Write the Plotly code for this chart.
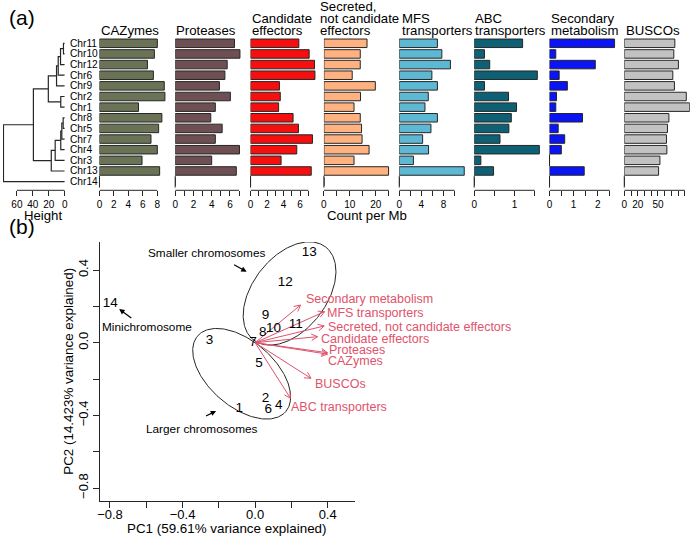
import numpy as np
import plotly.graph_objects as go

W, H = 693, 537
def fx(p):
    return p / W
def fy(p):
    return 1 - p / H

FONT = "Liberation Sans, Arial, Helvetica, sans-serif"
INK = "#262626"
PINK = "#DF536B"

# ---------------- data: panel (a) ----------------
chromosomes = ["Chr11", "Chr10", "Chr12", "Chr6", "Chr9", "Chr2", "Chr1",
               "Chr8", "Chr5", "Chr7", "Chr4", "Chr3", "Chr13", "Chr14"]
cazymes   = [8.02, 7.61, 6.65, 7.47, 8.98, 9.07, 5.41, 8.65, 8.20, 7.14, 8.02, 5.90, 8.34, 0]
proteases = [6.50, 7.10, 5.70, 5.45, 4.85, 6.05, 4.40, 3.90, 5.15, 4.40, 7.05, 4.00, 6.70, 0]
candidate = [5.85, 7.10, 7.75, 7.80, 3.50, 3.60, 3.40, 5.15, 5.80, 7.50, 5.60, 3.70, 7.35, 0]
secreted  = [16.6, 14.0, 14.0, 10.9, 19.8, 14.1, 11.6, 14.0, 14.5, 14.7, 17.4, 11.6, 24.9, 0]
mfs       = [6.90, 7.70, 9.25, 5.90, 6.90, 5.25, 4.65, 6.90, 5.73, 4.23, 5.30, 2.56, 11.75, 0]
abc       = [1.20, 0.255, 0.385, 1.565, 0.255, 0.85, 1.05, 0.92, 0.86, 0.64, 1.615, 0.165, 0.48, 0]
secondary = [2.70, 0.26, 1.90, 0.40, 0.74, 0.29, 0.26, 1.37, 0.36, 0.63, 0.49, 0, 1.44, 0]
buscos    = [75.0, 73.5, 80.3, 72.0, 74.4, 92.0, 97.0, 66.2, 64.1, 62.6, 63.2, 52.9, 50.9, 0]

panel_titles = [["CAZymes"], ["Proteases"], ["Candidate", "effectors"],
                ["Secreted,", "not candidate", "effectors"], ["MFS", "transporters"],
                ["ABC", "transporters"], ["Secondary", "metabolism"], ["BUSCOs"]]
panel_values = [cazymes, proteases, candidate, secreted, mfs, abc, secondary, buscos]
panel_colors = ["#6B7356", "#6E4F53", "#F50F0F", "#FFB280", "#5CB8D3", "#0E6174", "#0A14F5", "#C2C2C2"]
panel_ticks = [[0, 2, 4, 6, 8], [0, 1, 2, 3, 4, 5, 6, 7], [0, 1, 2, 3, 4, 5, 6, 7],
               [0, 5, 10, 15, 20, 25], [0, 2, 4, 6, 8, 10], [0, 0.5, 1, 1.5],
               [0, 0.5, 1, 1.5, 2, 2.5], [0, 10, 20, 30, 40, 50, 60, 70, 80, 90]]
panel_ticklabels = [[0, 2, 4, 6, 8], [0, 2, 4, 6], [0, 2, 4, 6], [0, 10, 20], [0, 4, 8],
                    [0, 1], [0, 1, 2], [0, 20, 50]]

# dendrogram merges: (child a, child b, height); "mK" = K-th merge
dend_merges = [("Chr11", "Chr10", 1.6), ("m1", "Chr12", 5.3), ("m2", "Chr6", 8.2),
               ("m3", "Chr9", 10.3), ("Chr2", "Chr1", 5.0), ("m4", "m5", 20.6),
               ("Chr8", "Chr5", 2.0), ("m7", "Chr7", 3.7), ("m8", "Chr4", 5.0),
               ("m9", "Chr3", 12.0), ("m10", "Chr13", 16.9), ("m6", "m11", 39.3),
               ("m12", "Chr14", 76.8)]
height_ticks = [60, 40, 20, 0]

# ---------------- data: panel (b) ----------------
pca_ids = ["1", "2", "3", "4", "5", "6", "7", "8", "9", "10", "11", "12", "13", "14"]
pc1 = [-0.087, 0.058, -0.251, 0.130, 0.022, 0.073, -0.012, 0.042, 0.057, 0.102, 0.224, 0.166, 0.298, -0.798]
pc2 = [-0.361, -0.308, 0.009, -0.347, -0.115, -0.370, -0.002, 0.056, 0.150, 0.079, 0.101, 0.328, 0.498, 0.215]

load_names = ["Secondary metabolism", "MFS transporters", "Secreted, not candidate effectors",
              "Candidate effectors", "Proteases", "CAZymes", "BUSCOs", "ABC transporters"]
load_x = [0.250, 0.383, 0.381, 0.344, 0.399, 0.399, 0.308, 0.195]
load_y = [0.207, 0.171, 0.092, 0.033, -0.055, -0.063, -0.196, -0.306]
load_lab_x = [0.273, 0.392, 0.396, 0.359, 0.401, 0.399, 0.326, 0.191]
load_lab_y = [0.239, 0.165, 0.088, 0.020, -0.042, -0.101, -0.229, -0.352]

pca_xticks = [-0.8, -0.6, -0.4, -0.2, 0.0, 0.2, 0.4]
pca_yticks = [-0.8, -0.6, -0.4, -0.2, 0.0, 0.2, 0.4]
pca_labeled = [-0.8, -0.4, 0.0, 0.4]

# ellipses: centre x, centre y, semi-major, semi-minor, angle (deg)
ellipses = [(0.190, 0.271, 0.324, 0.203, 52.0), (-0.074, -0.171, 0.320, 0.181, -40.6)]

groups = [  # text, text x, text y, arrow tail x, y, arrow head x, y
    ("Smaller chromosomes", -0.268, 0.495, -0.124, 0.433, -0.047, 0.391),
    ("Minichromosome", -0.596, 0.088, -0.674, 0.130, -0.749, 0.185),
    ("Larger chromosomes", -0.290, -0.477, -0.279, -0.407, -0.215, -0.376),
]

# ---------------- layout geometry (pixels) ----------------
ROW0, ROWSTEP = 43.3, 10.64
A_TOP, A_BOT = 36.0, 190.3
yr_top = (A_TOP - ROW0) / ROWSTEP
yr_bot = (A_BOT - ROW0) / ROWSTEP
panel_x0 = [97.3, 173.7, 249.7, 323.7, 399.7, 475.3, 551.3, 626.7]
panel_scale = [7.28, 9.2, 8.33, 2.62, 5.58, 40.7, 24.3, 0.68]
title_left = [98.3, 174.0, 250.0, 318.5, 401.7, 475.5, 551.7, 627.7]
PANEL_W = 68.0
DEND_RIGHT = 62.3
DEND_SCALE = 0.805

fig = go.Figure()
layout = dict(width=W, height=H, margin=dict(l=0, r=0, t=0, b=0),
              paper_bgcolor="white", plot_bgcolor="white", showlegend=False,
              font=dict(family=FONT, color="black"))
annotations = []
shapes = []

rows = list(range(len(chromosomes)))

# shared y axis for panel (a)
layout["yaxis"] = dict(domain=[fy(A_BOT), fy(A_TOP)], range=[yr_bot, yr_top],
                       visible=False, fixedrange=True)

# ---- dendrogram ----
nodes = {name: (0.0, float(i)) for i, name in enumerate(chromosomes)}
dx, dy = [], []
for k, (a, b, h) in enumerate(dend_merges, start=1):
    ha, ya = nodes[a]
    hb, yb = nodes[b]
    dx += [ha, h, h, hb, None]
    dy += [ya, ya, yb, yb, None]
    nodes["m%d" % k] = (h, (ya + yb) / 2)
fig.add_trace(go.Scatter(x=dx, y=dy, mode="lines", line=dict(color=INK, width=1.2),
                         xaxis="x", yaxis="y", hoverinfo="skip", cliponaxis=False))
hmax = DEND_RIGHT / DEND_SCALE
layout["xaxis"] = dict(domain=[0, fx(DEND_RIGHT)], range=[hmax, 0], anchor="y",
                       tickmode="array", tickvals=height_ticks,
                       ticktext=[str(v) for v in height_ticks],
                       ticks="outside", ticklen=5, tickcolor=INK, tickwidth=1,
                       showline=False, showgrid=False, zeroline=False,
                       tickfont=dict(size=10, family=FONT))
shapes.append(dict(type="line", xref="x", yref="paper", x0=min(height_ticks), x1=max(height_ticks),
                   y0=fy(A_BOT), y1=fy(A_BOT), line=dict(color=INK, width=1)))
for i, name in enumerate(chromosomes):
    annotations.append(dict(x=0, y=i, xref="x", yref="y", text=name, showarrow=False,
                            xanchor="left", yanchor="middle", xshift=3,
                            font=dict(size=10.2, family=FONT)))

# ---- bar panels ----
for k in range(8):
    ax = "x%d" % (k + 2)
    vals = panel_values[k]
    fig.add_trace(go.Bar(x=vals, y=rows, orientation="h", width=0.8,
                         marker=dict(color=panel_colors[k], line=dict(color=INK, width=1)),
                         xaxis=ax, yaxis="y", hoverinfo="skip", cliponaxis=False))
    zr = [i for i, v in enumerate(vals) if v == 0]
    fig.add_trace(go.Scatter(x=[0] * len(zr), y=zr, mode="markers",
                             marker=dict(symbol="line-ns", size=8.5,
                                         line=dict(color=INK, width=1)),
                             xaxis=ax, yaxis="y", hoverinfo="skip", cliponaxis=False))
    x0 = panel_x0[k]
    sc = panel_scale[k]
    pw = min(PANEL_W, W - x0 - 0.2)
    ticks = panel_ticks[k]
    layout["xaxis%d" % (k + 2)] = dict(
        domain=[fx(x0), fx(x0 + pw)], range=[0, pw / sc], anchor="y",
        tickmode="array", tickvals=ticks,
        ticktext=[("%g" % t) if t in panel_ticklabels[k] else "" for t in ticks],
        ticks="outside", ticklen=5, tickcolor=INK, tickwidth=1,
        showline=False, showgrid=False, zeroline=False,
        tickfont=dict(size=10, family=FONT))
    shapes.append(dict(type="line", xref=ax, yref="paper", x0=ticks[0], x1=ticks[-1],
                       y0=fy(A_BOT), y1=fy(A_BOT), line=dict(color=INK, width=1)))
    lines = panel_titles[k]
    n = len(lines)
    for j, ln in enumerate(lines):
        ycen = 30.3 - 11.8 * (n - 1 - j)
        annotations.append(dict(x=fx(title_left[k]), y=fy(ycen), xref="paper", yref="paper",
                                text=ln, showarrow=False, xanchor="left", yanchor="middle",
                                xshift=-1, font=dict(size=13.2, family=FONT)))

annotations.append(dict(x=fx(40.5), y=fy(215.5), xref="paper", yref="paper", text="Height",
                        showarrow=False, xanchor="center", yanchor="middle",
                        font=dict(size=13.2, family=FONT)))
annotations.append(dict(x=fx(367.5), y=fy(215.5), xref="paper", yref="paper", text="Count per Mb",
                        showarrow=False, xanchor="center", yanchor="middle",
                        font=dict(size=13.2, family=FONT)))
annotations.append(dict(x=fx(4), y=fy(18), xref="paper", yref="paper", text="(a)",
                        showarrow=False, xanchor="left", yanchor="middle",
                        font=dict(size=21, family=FONT)))
annotations.append(dict(x=fx(4), y=fy(226), xref="paper", yref="paper", text="(b)",
                        showarrow=False, xanchor="left", yanchor="middle",
                        font=dict(size=21, family=FONT)))

# ---- panel (b): PCA biplot ----
B_L, B_R, B_T, B_B = 97.7, 355.0, 242.0, 500.7
SX = 183.0
SY = 181.7
X0PX, Y0PX = 254.3, 342.7
xr = [(B_L - X0PX) / SX, (B_R - X0PX) / SX]
yr = [(Y0PX - B_B) / SY, (Y0PX - B_T) / SY]

def fmt(v):
    return ("%.1f" % v).replace("-", "\u2212")

layout["xaxis10"] = dict(domain=[fx(B_L), fx(B_R)], range=xr, anchor="y2",
                         tickmode="array", tickvals=pca_xticks,
                         ticktext=[fmt(t) if any(abs(t - l) < 1e-9 for l in pca_labeled) else "" for t in pca_xticks],
                         ticks="outside", ticklen=6, tickcolor=INK, tickwidth=1,
                         ticklabelstandoff=-4,
                         showline=True, linecolor=INK, linewidth=1, mirror=False,
                         showgrid=False, zeroline=False,
                         tickfont=dict(size=13, family=FONT))
layout["yaxis2"] = dict(domain=[fy(B_B), fy(B_T)], range=yr, anchor="x10",
                        tickmode="array", tickvals=pca_yticks,
                        ticktext=[fmt(t) if any(abs(t - l) < 1e-9 for l in pca_labeled) else "" for t in pca_yticks],
                        ticks="outside", ticklen=6, tickcolor=INK, tickwidth=1, tickangle=-90,
                        showline=True, linecolor=INK, linewidth=1, mirror=False,
                        showgrid=False, zeroline=False,
                        tickfont=dict(size=13, family=FONT))

# ellipses
for (cx, cy, a, b, ang) in ellipses:
    t = np.linspace(0, 2 * np.pi, 241)
    th = np.radians(ang)
    ex = cx + a * np.cos(t) * np.cos(th) - b * np.sin(t) * np.sin(th)
    ey = cy + a * np.cos(t) * np.sin(th) + b * np.sin(t) * np.cos(th)
    fig.add_trace(go.Scatter(x=ex, y=ey, mode="lines", line=dict(color=INK, width=1),
                             xaxis="x10", yaxis="y2", hoverinfo="skip"))

# loading arrows (line + open V head, computed in pixel space)
HEAD = 7.0
ax_, ay_ = [], []
for lx, ly in zip(load_x, load_y):
    ax_ += [0, lx, None]
    ay_ += [0, ly, None]
    vx, vy = lx * SX, ly * SY
    nrm = np.hypot(vx, vy)
    ux, uy = vx / nrm, vy / nrm
    for s in (1, -1):
        c, sn = np.cos(np.radians(28) * s), np.sin(np.radians(28) * s)
        rx, ry = ux * c - uy * sn, ux * sn + uy * c
        ax_ += [lx - HEAD * rx / SX, lx, None]
        ay_ += [ly - HEAD * ry / SY, ly, None]
fig.add_trace(go.Scatter(x=ax_, y=ay_, mode="lines", line=dict(color=PINK, width=1),
                         xaxis="x10", yaxis="y2", hoverinfo="skip"))

for name, lx, ly in zip(load_names, load_lab_x, load_lab_y):
    annotations.append(dict(x=lx, y=ly, xref="x10", yref="y2", text=name, showarrow=False,
                            xanchor="left", yanchor="middle", xshift=-1,
                            font=dict(size=12.5, family=FONT, color=PINK)))

# chromosome numbers
fig.add_trace(go.Scatter(x=pc1, y=pc2, mode="text", text=pca_ids, textposition="middle center",
                         textfont=dict(size=13.5, family=FONT, color="black"),
                         xaxis="x10", yaxis="y2", hoverinfo="skip", cliponaxis=False))

# group annotations
for (txt, tx, ty, x_t, y_t, x_h, y_h) in groups:
    annotations.append(dict(x=tx, y=ty, xref="x10", yref="y2", text=txt, showarrow=False,
                            xanchor="center", yanchor="middle",
                            font=dict(size=11.8, family=FONT)))
    annotations.append(dict(x=x_h, y=y_h, ax=x_t, ay=y_t, xref="x10", yref="y2",
                            axref="x10", ayref="y2", text="", showarrow=True,
                            arrowhead=2, arrowsize=0.9, arrowwidth=1.2, arrowcolor="black"))

annotations.append(dict(x=fx((B_L + B_R) / 2), y=fy(528.0), xref="paper", yref="paper",
                        text="PC1 (59.61% variance explained)", showarrow=False,
                        xanchor="center", yanchor="middle", font=dict(size=13.4, family=FONT)))
annotations.append(dict(x=fx(66), y=fy((B_T + B_B) / 2), xref="paper", yref="paper",
                        text="PC2 (14.423% variance explained)", showarrow=False, textangle=-90,
                        xanchor="center", yanchor="middle", font=dict(size=13.4, family=FONT)))

layout["annotations"] = annotations
layout["shapes"] = shapes
layout["bargap"] = 0.2
layout["barmode"] = "overlay"
fig.update_layout(**layout)
fig.write_html("out.html", config={"displayModeBar": False},
               post_script="document.body.style.margin='0';document.body.style.overflow='hidden';")
